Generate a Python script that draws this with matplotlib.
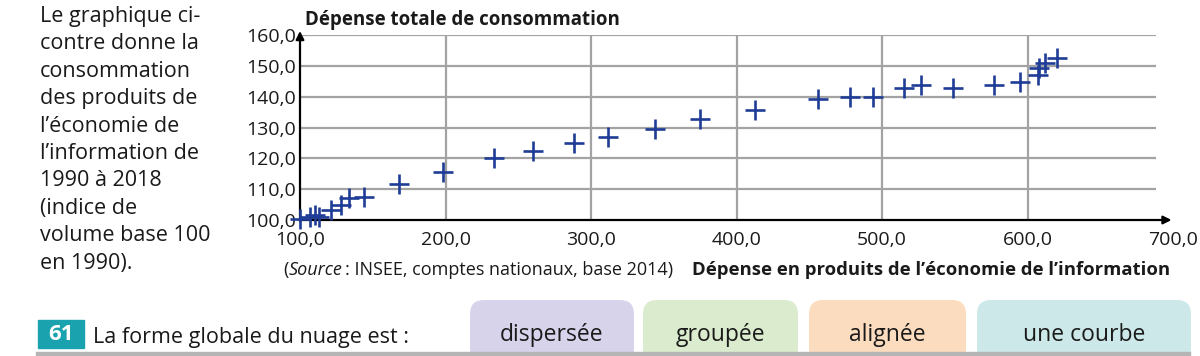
import matplotlib.pyplot as plt
from matplotlib.patches import FancyBboxPatch, Rectangle

plt.rcParams['font.family'] = ['Open Sans', 'DejaVu Sans']

# data
depense_info = [100, 107, 110, 113, 121, 128, 134, 144, 168, 198,
                233, 260, 288, 312, 344, 375, 413, 456, 478, 494,
                515, 527, 549, 577, 595, 607, 608, 612, 620]
depense_totale = [100.2, 101.0, 101.5, 101.0, 103.2, 105.0, 107.0, 107.3, 111.6, 115.5,
                  120.0, 122.5, 125.1, 126.9, 129.5, 132.7, 135.8, 139.4, 139.8, 139.8,
                  142.8, 143.8, 142.8, 143.8, 144.9, 147.0, 149.2, 151.0, 152.6]

x_ticks = [100, 200, 300, 400, 500, 600, 700]
y_ticks = [100, 110, 120, 130, 140, 150, 160]

intro = ("Le graphique ci-\ncontre donne la\nconsommation\ndes produits de\n"
         "l\u2019\u00e9conomie de\nl\u2019information de\n1990 \u00e0 2018\n"
         "(indice de\nvolume base 100\nen 1990).")
choices = ['dispers\u00e9e', 'group\u00e9e', 'align\u00e9e', 'une courbe']
choice_colors = ['#d6d3eb', '#dbecce', '#fcdcbf', '#cde8e8']

fig = plt.figure(figsize=(12, 3.56), dpi=100)

ax = fig.add_axes([0.25, 0.382, 0.7275, 0.5197])
ax.set_xlim(100, 700)
ax.set_ylim(100, 160)
for s in ax.spines.values():
    s.set_visible(False)

grid = '#a3a3a3'
ax.hlines(y_ticks[1:], 100, 688, color=grid, lw=1.6, zorder=1)
ax.vlines(x_ticks[1:-1], 100, 160, color=grid, lw=1.6, zorder=1)

ax.annotate('', xy=(100, 161.3), xytext=(100, 99.6),
            arrowprops=dict(arrowstyle='-|>', color='black', lw=1.6,
                            mutation_scale=12, shrinkA=0, shrinkB=0),
            annotation_clip=False)
ax.annotate('', xy=(699, 100), xytext=(99.6, 100),
            arrowprops=dict(arrowstyle='-|>', color='black', lw=1.6,
                            mutation_scale=12, shrinkA=0, shrinkB=0),
            annotation_clip=False)

ax.plot(depense_info, depense_totale, linestyle='none', marker='+',
        markersize=14, markeredgewidth=1.9, color='#1f3c96', zorder=3,
        clip_on=False)

ax.set_xticks(x_ticks)
ax.set_xticklabels([f'{v},0' for v in x_ticks])
ax.set_yticks(y_ticks)
ax.set_yticklabels([f'{v},0' for v in y_ticks])
ax.tick_params(length=0, labelsize=14, colors='#1a1a1a', pad=3)
ax.tick_params(axis='x', pad=8)

# overlay in pixel coordinates for the surrounding text
ov = fig.add_axes([0, 0, 1, 1], zorder=-1)
ov.set_xlim(0, 1200)
ov.set_ylim(356, 0)
ov.axis('off')

ov.text(40, 6, intro, fontsize=15.5, va='top', ha='left', color='#1a1a1a',
        linespacing=1.4)

ov.text(305, 20, 'D\u00e9pense totale de consommation', fontsize=13.5,
        fontweight='bold', va='center', ha='left', color='#1a1a1a')
ov.text(283, 270, '(', fontsize=13, va='center', ha='left', color='#1a1a1a')
ov.text(289, 270, 'Source', fontsize=13, style='italic', va='center',
        ha='left', color='#1a1a1a')
ov.text(345, 270, ': INSEE, comptes nationaux, base 2014)', fontsize=13,
        va='center', ha='left', color='#1a1a1a')
ov.text(1170, 270, 'D\u00e9pense en produits de l\u2019\u00e9conomie de l\u2019information',
        fontsize=13.3, fontweight='bold', va='center', ha='right', color='#1a1a1a')

# question line
ov.add_patch(Rectangle((38, 320), 46, 28, color='#1aa3ae'))
ov.text(61, 334, '61', fontsize=16, fontweight='bold', color='white',
        ha='center', va='center')
ov.text(93, 337, 'La forme globale du nuage est :', fontsize=15.5,
        ha='left', va='center', color='#1a1a1a')

box_x = [470, 643, 809, 977]
box_w = [164, 155, 157, 214]
for bx, bw, lab, col in zip(box_x, box_w, choices, choice_colors):
    ov.add_patch(FancyBboxPatch((bx, 300), bw, 70,
                                boxstyle='round,pad=0,rounding_size=14',
                                facecolor=col, edgecolor='none'))
    ov.text(bx + bw / 2, 335, lab, fontsize=16.5, ha='center', va='center',
            color='#1a1a1a')

ov.add_patch(Rectangle((36, 352), 1154, 4, color='#b5b5b5'))

fig.savefig('out.png', dpi=100)
